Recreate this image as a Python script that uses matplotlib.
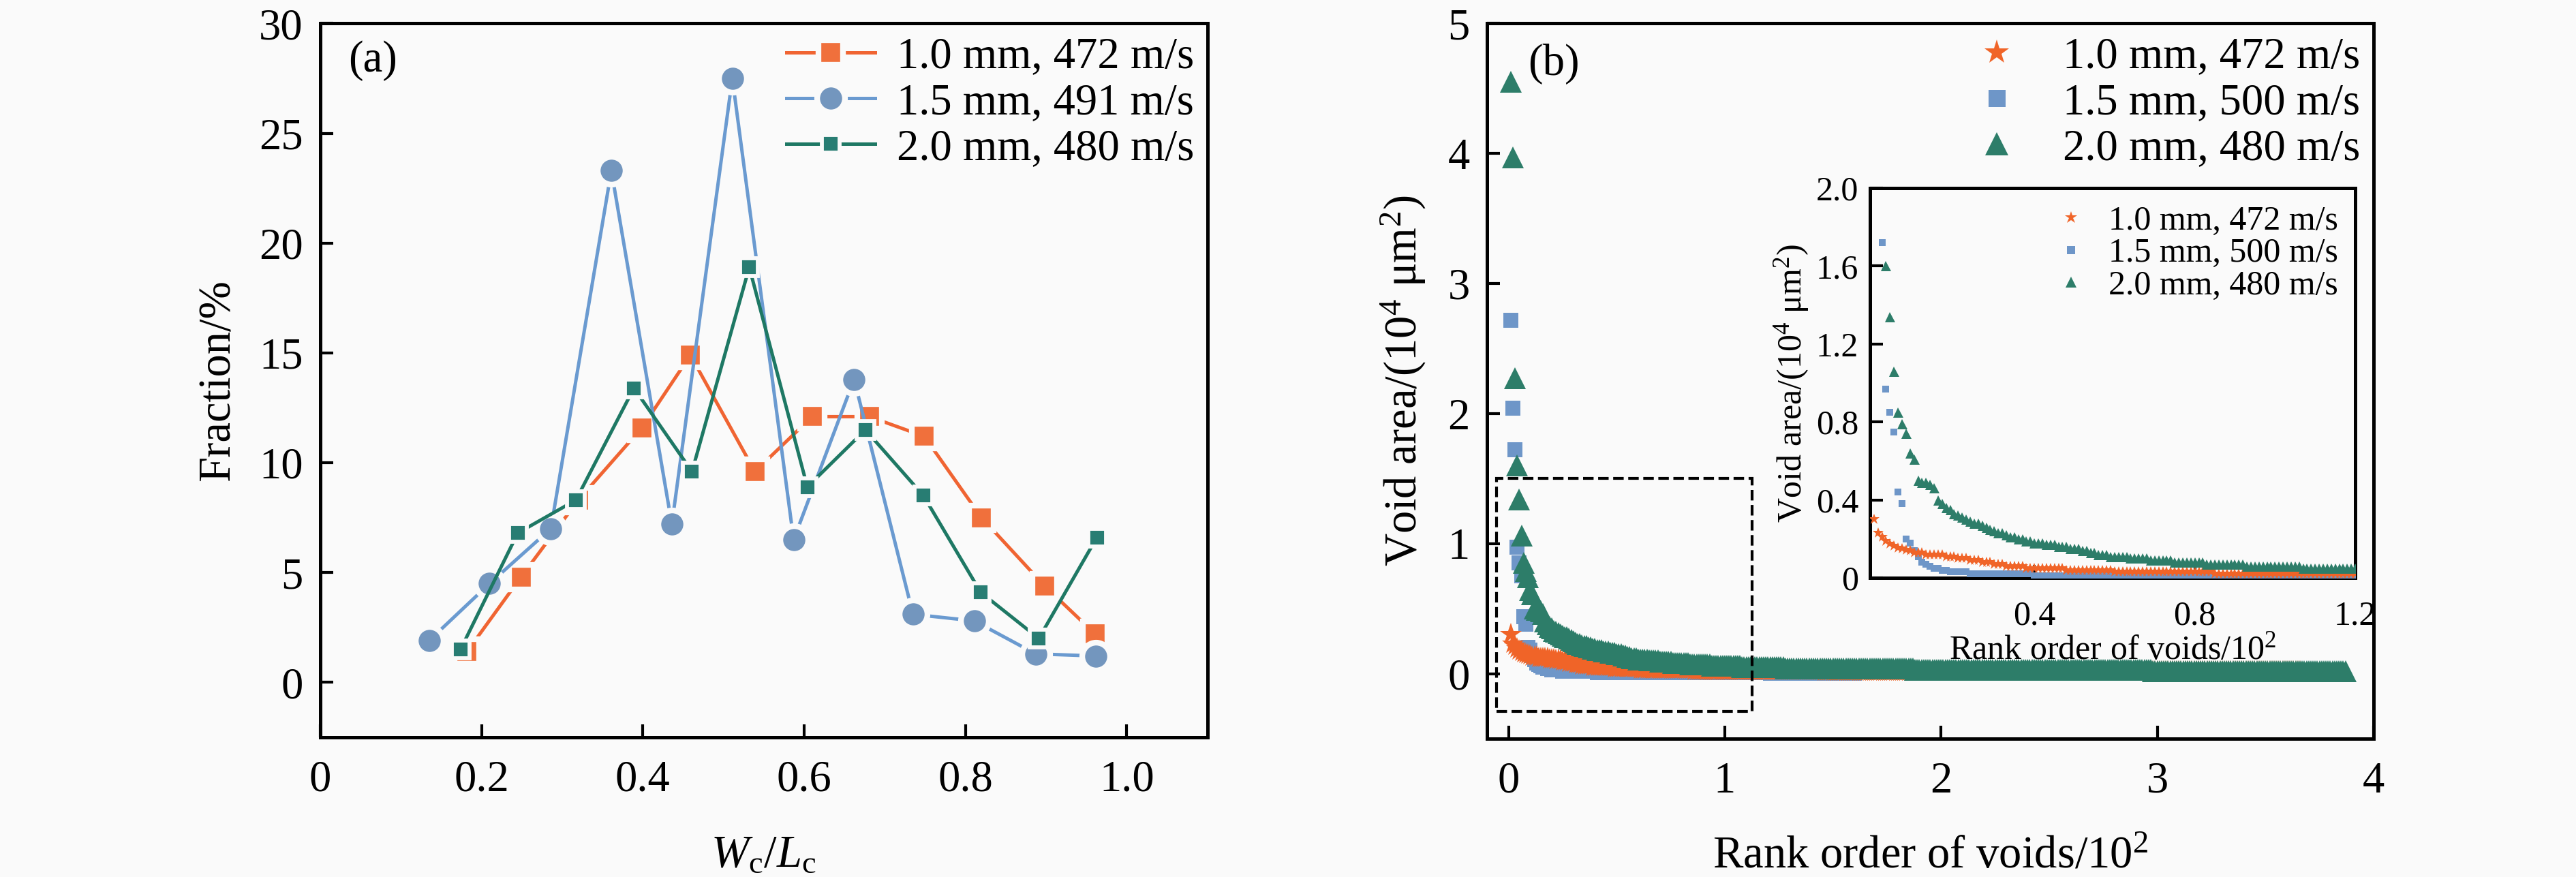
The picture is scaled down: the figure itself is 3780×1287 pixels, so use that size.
import numpy as np
import matplotlib.pyplot as plt
from matplotlib.lines import Line2D
from matplotlib.patches import Rectangle

plt.rcParams['font.family'] = ['Liberation Serif', 'DejaVu Serif']
plt.rcParams['mathtext.fontset'] = 'custom'
plt.rcParams['mathtext.rm'] = 'Liberation Serif'
plt.rcParams['mathtext.it'] = 'Liberation Serif:italic'

BG = '#fafafa'

# ---- (a) fraction vs Wc/Lc ----
x_10 = [0.182, 0.249, 0.320, 0.399, 0.459, 0.539, 0.610, 0.681, 0.749, 0.820, 0.898, 0.961]
f_10 = [1.4, 4.8, 8.3, 11.6, 14.9, 9.6, 12.1, 12.1, 11.2, 7.5, 4.4, 2.2]
x_15 = [0.135, 0.210, 0.286, 0.361, 0.436, 0.511, 0.587, 0.662, 0.735, 0.811, 0.887, 0.962]
f_15 = [1.9, 4.5, 7.0, 23.3, 7.2, 27.5, 6.5, 13.8, 3.1, 2.8, 1.3, 1.2]
x_20 = [0.174, 0.245, 0.317, 0.389, 0.461, 0.532, 0.604, 0.676, 0.748, 0.819, 0.891, 0.963]
f_20 = [1.5, 6.8, 8.3, 13.4, 9.6, 18.9, 8.9, 11.5, 8.5, 4.1, 2.0, 6.6]
labels_a = ['1.0 mm, 472 m/s', '1.5 mm, 491 m/s', '2.0 mm, 480 m/s']

# ---- (b) ranked void areas (10^4 um^2): first values, then (value, count) runs ----
green_head = [4.55, 3.97, 2.27, 1.60, 1.34, 1.06, 0.85, 0.79, 0.74, 0.64, 0.61, 0.50,
              0.49, 0.49, 0.48, 0.46, 0.40, 0.38, 0.36, 0.35, 0.33, 0.32, 0.31, 0.30,
              0.29, 0.28, 0.28, 0.27, 0.26, 0.25, 0.24, 0.23, 0.23, 0.22, 0.21, 0.21,
              0.20, 0.20, 0.19, 0.19]
green_runs = [(0.18, 3), (0.17, 3), (0.16, 3), (0.15, 3), (0.14, 2), (0.13, 2), (0.12, 3),
              (0.11, 5), (0.10, 5), (0.09, 6), (0.08, 8), (0.07, 10), (0.06, 14),
              (0.05, 20), (0.04, 60), (0.03, 110), (0.02, 90)]
blue_head = [2.72, 2.04, 1.72, 0.97, 0.85, 0.75, 0.44, 0.38, 0.20, 0.18, 0.14, 0.11,
             0.08, 0.07, 0.06, 0.05, 0.05, 0.04, 0.04, 0.03]
blue_runs = [(0.03, 4), (0.02, 16), (0.01, 80), (0.005, 40)]
orange_head = [0.30, 0.23, 0.21, 0.19, 0.175, 0.163, 0.155, 0.15, 0.145, 0.14]
orange_runs = [(0.13, 3), (0.12, 5), (0.11, 3), (0.10, 3), (0.09, 3), (0.08, 3), (0.07, 3),
               (0.06, 5), (0.05, 10), (0.04, 12), (0.03, 25), (0.02, 60), (0.015, 221)]
labels_b = ['1.0 mm, 472 m/s', '1.5 mm, 500 m/s', '2.0 mm, 480 m/s']


def expand(head, runs):
    vals = [v for v, n in runs]
    cnts = [n for v, n in runs]
    return np.concatenate([head, np.repeat(vals, cnts)])


area_o = expand(orange_head, orange_runs)
area_b = expand(blue_head, blue_runs)
area_g = expand(green_head, green_runs)

c_or, c_bl, c_gr = '#f0703c', '#7396be', '#287d73'
l_or, l_bl, l_gr = '#f06432', '#6a9ad0', '#1e7864'
s_or, s_bl, s_gr = '#f06428', '#6e96c8', '#2d7d69'

FS = 15.5   # main text size
FI = 12     # inset text size

fig = plt.figure(figsize=(12.6, 4.29), dpi=300, facecolor=BG)


def style(ax, size=FS):
    ax.set_facecolor(BG)
    for sp in ax.spines.values():
        sp.set_linewidth(1.2)
    ax.tick_params(direction='in', length=4.5, width=1.0, labelsize=size,
                   top=False, right=False)


# ---- panel (a) ----
ax1 = fig.add_axes([0.1243, 0.1593, 0.3444, 0.8139])
style(ax1)
ax1.plot(x_10, f_10, '-', color=l_or, lw=1.2, marker='s', ms=8.8, mfc=c_or,
         mec=BG, mew=2.0, label=labels_a[0], zorder=3)
ax1.plot(x_15, f_15, '-', color=l_bl, lw=1.2, marker='o', ms=9.8, mfc=c_bl,
         mec=BG, mew=2.0, label=labels_a[1], zorder=4)
ax1.plot(x_20, f_20, '-', color=l_gr, lw=1.2, marker='s', ms=6.4, mfc=c_gr,
         mec=BG, mew=1.4, label=labels_a[2], zorder=5)
ax1.set_xlim(0, 1.1)
ax1.set_ylim(-2.5, 30)
ax1.set_xticks([0, 0.2, 0.4, 0.6, 0.8, 1.0])
ax1.set_xticklabels(['0', '0.2', '0.4', '0.6', '0.8', '1.0'])
ax1.set_yticks([0, 5, 10, 15, 20, 25, 30])
ax1.tick_params(axis='x', pad=8)
ax1.tick_params(axis='y', pad=6)
ax1.set_xlabel(r'$W_\mathrm{c}/L_\mathrm{c}$', fontsize=16, labelpad=12)
ax1.set_ylabel('Fraction/%', fontsize=16, labelpad=7)
ax1.text(0.032, 0.948, '(a)', transform=ax1.transAxes, fontsize=FS,
         va='center', ha='left')
ax1.legend(loc='upper right', frameon=False, fontsize=FS, handlelength=2.0,
           handletextpad=0.5, labelspacing=0.12, borderaxespad=0.1,
           borderpad=0.2, bbox_to_anchor=(1.0, 1.0))

# ---- panel (b) ----
ax2 = fig.add_axes([0.5772, 0.1578, 0.3442, 0.8154])
style(ax2)
rank_o = np.arange(1, len(area_o) + 1) / 100
rank_b = np.arange(1, len(area_b) + 1) / 100
rank_g = np.arange(1, len(area_g) + 1) / 100
ax2.plot(rank_b, area_b, 's', ls='none', ms=5.3, color=s_bl, mew=0, zorder=3)
ax2.plot(rank_o, area_o, '*', ls='none', ms=8.0, color=s_or, mew=0, zorder=4)
ax2.plot(rank_g, area_g, '^', ls='none', ms=7.5, color=s_gr, mew=0, zorder=5)
ax2.add_patch(Rectangle((-0.055, -0.29), 1.18, 1.79, fill=False, ls='--',
                        lw=1.0, ec='black', zorder=6))
ax2.set_xlim(-0.1, 4.0)
ax2.set_ylim(-0.5, 5)
ax2.set_xticks([0, 1, 2, 3, 4])
ax2.set_yticks([0, 1, 2, 3, 4, 5])
ax2.tick_params(axis='x', pad=8)
ax2.tick_params(axis='y', pad=6)
ax2.set_xlabel(r'Rank order of voids/10$^2$', fontsize=16, labelpad=12)
ax2.set_ylabel(r'Void area/(10$^4$ μm$^2$)', fontsize=16, labelpad=7)
ax2.text(0.046, 0.943, '(b)', transform=ax2.transAxes, fontsize=FS,
         va='center', ha='left')
hb = [Line2D([], [], ls='none', marker='*', ms=9, color=s_or, mew=0),
      Line2D([], [], ls='none', marker='s', ms=6, color=s_bl, mew=0),
      Line2D([], [], ls='none', marker='^', ms=8, color=s_gr, mew=0)]
ax2.legend(hb, labels_b, loc='upper right', frameon=False, fontsize=FS,
           handlelength=1.0, handletextpad=1.0, labelspacing=0.12,
           borderaxespad=0.1, borderpad=0.2, bbox_to_anchor=(1.0, 1.0))

# ---- inset ----
ax3 = fig.add_axes([0.7259, 0.3411, 0.1884, 0.4444])
style(ax3, size=FI)
ax3.plot(rank_b - 0.01, area_b, 's', ls='none', ms=2.6, color=s_bl, mew=0, zorder=3)
ax3.plot(rank_o - 0.01, area_o, '*', ls='none', ms=4.0, color=s_or, mew=0, zorder=4)
ax3.plot(rank_g - 0.01, area_g, '^', ls='none', ms=3.6, color=s_gr, mew=0, zorder=5)
ax3.set_xlim(-0.01, 1.2)
ax3.set_ylim(0, 2.0)
ax3.set_xticks([0.4, 0.8, 1.2])
ax3.set_yticks([0, 0.4, 0.8, 1.2, 1.6, 2.0])
ax3.set_yticklabels(['0', '0.4', '0.8', '1.2', '1.6', '2.0'])
ax3.tick_params(axis='x', pad=8)
ax3.tick_params(axis='y', pad=4)
ax3.set_xlabel(r'Rank order of voids/10$^2$', fontsize=FI, labelpad=1)
ax3.set_ylabel(r'Void area/(10$^4$ μm$^2$)', fontsize=FI, labelpad=2)
hi = [Line2D([], [], ls='none', marker='*', ms=4.5, color=s_or, mew=0),
      Line2D([], [], ls='none', marker='s', ms=3, color=s_bl, mew=0),
      Line2D([], [], ls='none', marker='^', ms=4, color=s_gr, mew=0)]
ax3.legend(hi, labels_b, loc='upper right', frameon=False, fontsize=FI,
           handlelength=1.0, handletextpad=0.6, labelspacing=0.02,
           borderaxespad=0.2, borderpad=0.3, bbox_to_anchor=(1.0, 1.0))

fig.savefig('out.png', dpi=300, facecolor=BG)
